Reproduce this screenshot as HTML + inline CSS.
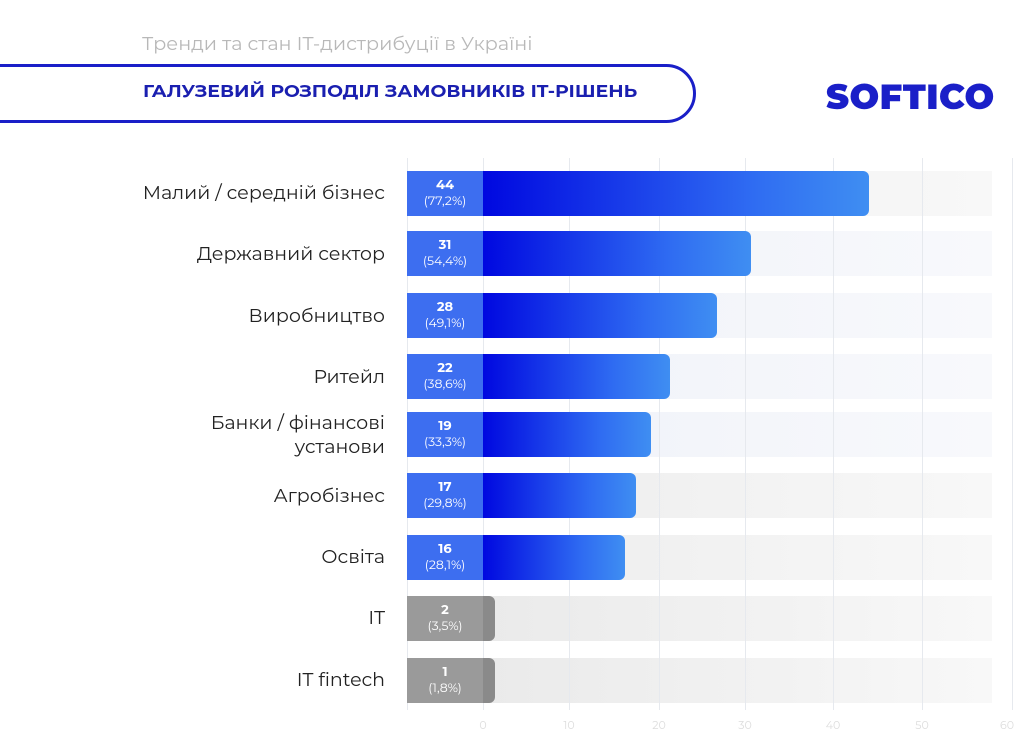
<!DOCTYPE html>
<html><head><meta charset="utf-8"><style>
body{margin:0;width:1024px;height:739px;background:#fff;position:relative;overflow:hidden;font-family:"Montserrat","Liberation Sans","DejaVu Sans",sans-serif}
.a{position:absolute}
.sub{left:142px;top:32px;font-size:19px;color:#b8b8b8;transform:scaleX(1.015);transform-origin:left;white-space:nowrap}
.pill{left:-40px;top:64px;width:736px;height:59px;border:3px solid #1a1fc8;border-radius:0 30px 30px 0;box-sizing:border-box}
.title{left:143px;top:82px;font-size:17px;font-weight:bold;color:#1a1fb0;transform:scaleX(1.11);transform-origin:left;white-space:nowrap}
.logo{left:826px;top:75px;font-size:35px;font-weight:900;color:#1a1fc8;letter-spacing:0.5px}
.lab{right:639px;font-size:19px;color:#222;text-align:right;line-height:24px}
.track{left:407px;width:585px;height:45px}
.box{left:407px;width:76px;height:45px;color:#fff;text-align:center;font-size:12.5px;line-height:16px;box-sizing:border-box;padding-top:6px}
.box b{font-size:13px}
.bar{left:483px;height:45px;border-radius:0 6px 6px 0}
.grid{top:158px;width:1px;height:552px;background:#e6e9ee}
.tick{top:718px;font-size:11px;color:#ddd;width:30px;margin-left:-15px;text-align:center}
</style></head><body>
<div class="a sub">Тренди та стан IT-дистрибуції в Україні</div>
<div class="a pill"></div>
<div class="a title">ГАЛУЗЕВИЙ РОЗПОДІЛ ЗАМОВНИКІВ IT-РІШЕНЬ</div>
<div class="a logo">SOFTICO</div>

<div class="a track" style="top:171px;background:linear-gradient(90deg,#ececec,#f8f8f8)"></div>
<div class="a track" style="top:231px;background:linear-gradient(90deg,#eef1f8,#f8f9fc)"></div>
<div class="a track" style="top:293px;background:linear-gradient(90deg,#eef1f8,#f8f9fc)"></div>
<div class="a track" style="top:354px;background:linear-gradient(90deg,#eef1f8,#f8f9fc)"></div>
<div class="a track" style="top:412px;background:linear-gradient(90deg,#eef1f8,#f8f9fc)"></div>
<div class="a track" style="top:473px;background:linear-gradient(90deg,#ebebeb,#f8f8f8)"></div>
<div class="a track" style="top:535px;background:linear-gradient(90deg,#ebebeb,#f8f8f8)"></div>
<div class="a track" style="top:596px;background:linear-gradient(90deg,#e8e8e8,#f8f8f8)"></div>
<div class="a track" style="top:658px;background:linear-gradient(90deg,#e8e8e8,#f8f8f8)"></div>

<div class="a grid" style="left:407px"></div>
<div class="a grid" style="left:483px"></div>
<div class="a grid" style="left:569px"></div>
<div class="a grid" style="left:659px"></div>
<div class="a grid" style="left:745px"></div>
<div class="a grid" style="left:833px"></div>
<div class="a grid" style="left:922px"></div>
<div class="a grid" style="left:1012px"></div>
<div class="a tick" style="left:483px">0</div>
<div class="a tick" style="left:569px">10</div>
<div class="a tick" style="left:659px">20</div>
<div class="a tick" style="left:745px">30</div>
<div class="a tick" style="left:833px">40</div>
<div class="a tick" style="left:922px">50</div>
<div class="a tick" style="left:1007px">60</div>

<div class="a bar" style="top:171px;width:386px;background:linear-gradient(90deg,#0008e0,#2f6cf2 70%,#3f8ef2)"></div>
<div class="a bar" style="top:231px;width:268px;background:linear-gradient(90deg,#0008e0,#2f6cf2 70%,#3f8ef2)"></div>
<div class="a bar" style="top:293px;width:234px;background:linear-gradient(90deg,#0008e0,#2f6cf2 70%,#3f8ef2)"></div>
<div class="a bar" style="top:354px;width:187px;background:linear-gradient(90deg,#0008e0,#2f6cf2 70%,#3f8ef2)"></div>
<div class="a bar" style="top:412px;width:168px;background:linear-gradient(90deg,#0008e0,#2f6cf2 70%,#3f8ef2)"></div>
<div class="a bar" style="top:473px;width:153px;background:linear-gradient(90deg,#0008e0,#2f6cf2 70%,#3f8ef2)"></div>
<div class="a bar" style="top:535px;width:142px;background:linear-gradient(90deg,#0008e0,#2f6cf2 70%,#3f8ef2)"></div>
<div class="a bar" style="top:596px;width:12px;background:#8a8a8a"></div>
<div class="a bar" style="top:658px;width:12px;background:#8a8a8a"></div>

<div class="a box" style="top:171px;background:#3d6ef0"><b>44</b><br>(77,2%)</div>
<div class="a box" style="top:231px;background:#3d6ef0"><b>31</b><br>(54,4%)</div>
<div class="a box" style="top:293px;background:#3d6ef0"><b>28</b><br>(49,1%)</div>
<div class="a box" style="top:354px;background:#3d6ef0"><b>22</b><br>(38,6%)</div>
<div class="a box" style="top:412px;background:#3d6ef0"><b>19</b><br>(33,3%)</div>
<div class="a box" style="top:473px;background:#3d6ef0"><b>17</b><br>(29,8%)</div>
<div class="a box" style="top:535px;background:#3d6ef0"><b>16</b><br>(28,1%)</div>
<div class="a box" style="top:596px;background:#9a9a9a"><b>2</b><br>(3,5%)</div>
<div class="a box" style="top:658px;background:#9a9a9a"><b>1</b><br>(1,8%)</div>

<div class="a lab" style="top:181px">Малий / середній бізнес</div>
<div class="a lab" style="top:242px">Державний сектор</div>
<div class="a lab" style="top:304px">Виробництво</div>
<div class="a lab" style="top:365px">Ритейл</div>
<div class="a lab" style="top:411px">Банки / фінансові<br>установи</div>
<div class="a lab" style="top:484px">Агробізнес</div>
<div class="a lab" style="top:545px">Освіта</div>
<div class="a lab" style="top:606px">IT</div>
<div class="a lab" style="top:668px">IT fintech</div>
</body></html>
